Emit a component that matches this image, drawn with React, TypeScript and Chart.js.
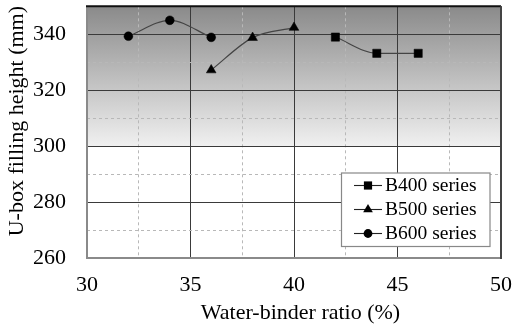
import React, { useEffect, useRef } from 'react';
import { Chart, registerables } from 'chart.js';

Chart.register(...registerables);

// ---- data ----
const xTitle = 'Water-binder ratio (%)';
const yTitle = 'U-box filling height (mm)';
const seriesNames = ['B400 series', 'B500 series', 'B600 series'];
const b400X = [42, 44, 46];
const b400Y = [339, 333.2, 333.2];
const b500X = [36, 38, 40];
const b500Y = [327.2, 338.8, 342.4];
const b600X = [32, 34, 36];
const b600Y = [339.3, 345, 338.9];
const xMin = 30;
const xMax = 50;
const xGridStep = 2.5;
const xLabelStep = 5;
const yMin = 260;
const yMax = 350;
const yGridStep = 10;
const yLabelStep = 20;
const shadeFrom = 350;
const shadeTo = 300;

const FONT = '"Liberation Serif", "Times New Roman", serif';
const pointStyles = ['rect', 'triangle', 'circle'];
const pointRadii = [5.8, 5.6, 4.4];

const toPoints = (xs: number[], ys: number[]) => xs.map((x, i) => ({ x, y: ys[i] }));

const backgroundPlugin = {
  id: 'bgShade',
  beforeDraw(chart: any) {
    const { ctx, chartArea } = chart;
    if (!chartArea) return;
    const { left, top, right, bottom } = chartArea;
    const yS = chart.scales.y;
    const y0 = yS.getPixelForValue(shadeFrom);
    const y1 = yS.getPixelForValue(shadeTo);
    ctx.save();
    ctx.fillStyle = '#ffffff';
    ctx.fillRect(left, top, right - left, bottom - top);
    const g = ctx.createLinearGradient(0, y0, 0, y1);
    g.addColorStop(0, '#8a8a8a');
    g.addColorStop(1, '#f0f0f0');
    ctx.fillStyle = g;
    ctx.fillRect(left, y0, right - left, y1 - y0);
    ctx.restore();
  },
};

const framePlugin = {
  id: 'frame',
  beforeDatasetsDraw(chart: any) {
    const { ctx, chartArea } = chart;
    const { left, top, right, bottom } = chartArea;
    ctx.save();
    ctx.lineWidth = 2;
    ctx.strokeStyle = '#8a8a8a';
    ctx.beginPath();
    ctx.moveTo(left, top);
    ctx.lineTo(left, bottom);
    ctx.lineTo(right, bottom);
    ctx.stroke();
    ctx.strokeStyle = '#111111';
    ctx.beginPath();
    ctx.moveTo(left - 1, top);
    ctx.lineTo(right, top);
    ctx.stroke();
    ctx.strokeStyle = '#444444';
    ctx.beginPath();
    ctx.moveTo(right, top);
    ctx.lineTo(right, bottom + 1);
    ctx.stroke();
    ctx.restore();
  },
};

const titlesPlugin = {
  id: 'axisTitles',
  afterDraw(chart: any) {
    const { ctx, chartArea } = chart;
    const { left, top, right, bottom } = chartArea;
    ctx.save();
    ctx.fillStyle = '#000000';
    ctx.font = `22px ${FONT}`;
    ctx.textAlign = 'center';
    ctx.textBaseline = 'middle';
    ctx.fillText(xTitle, (left + right) / 2 + 6.5, bottom + 55);
    ctx.translate(17.5, (top + bottom) / 2 - 11);
    ctx.rotate(-Math.PI / 2);
    ctx.fillText(yTitle, 0, 0);
    ctx.restore();
  },
};

const legendPlugin = {
  id: 'boxLegend',
  afterDraw(chart: any) {
    const { ctx, chartArea } = chart;
    const w = 148.5;
    const h = 73.5;
    const x0 = chartArea.right - 11 - w;
    const y0 = chartArea.bottom - 11.5 - h;
    ctx.save();
    ctx.fillStyle = '#ffffff';
    ctx.fillRect(x0, y0, w, h);
    ctx.strokeStyle = '#888888';
    ctx.lineWidth = 1.2;
    ctx.strokeRect(x0, y0, w, h);
    ctx.font = `19.5px ${FONT}`;
    ctx.textBaseline = 'middle';
    ctx.textAlign = 'left';
    chart.data.datasets.forEach((ds: any, i: number) => {
      const cy = y0 + 12.5 + i * 24;
      ctx.strokeStyle = '#222222';
      ctx.lineWidth = 1.1;
      ctx.beginPath();
      ctx.moveTo(x0 + 12.5, cy);
      ctx.lineTo(x0 + 40.5, cy);
      ctx.stroke();
      ctx.fillStyle = '#000000';
      const mx = x0 + 26.5;
      const r = ds.pointRadius;
      ctx.beginPath();
      if (ds.pointStyle === 'rect') {
        const s = Math.SQRT1_2 * r;
        ctx.rect(mx - s, cy - s, 2 * s, 2 * s);
      } else if (ds.pointStyle === 'triangle') {
        ctx.moveTo(mx, cy - r);
        ctx.lineTo(mx + Math.sin((2 * Math.PI) / 3) * r, cy + r / 2);
        ctx.lineTo(mx - Math.sin((2 * Math.PI) / 3) * r, cy + r / 2);
        ctx.closePath();
      } else {
        ctx.arc(mx, cy, r, 0, Math.PI * 2);
      }
      ctx.fill();
      ctx.fillText(ds.label, x0 + 43.5, cy + 0.5);
    });
    ctx.restore();
  },
};

export default function App() {
  const canvasRef = useRef<HTMLCanvasElement | null>(null);

  useEffect(() => {
    const canvas = canvasRef.current;
    if (!canvas) return;
    const seriesData = [toPoints(b400X, b400Y), toPoints(b500X, b500Y), toPoints(b600X, b600Y)];
    const chart = new Chart(canvas, {
      type: 'line',
      data: {
        datasets: seriesData.map((d, i) => ({
          label: seriesNames[i],
          data: d,
          borderColor: '#444444',
          borderWidth: 1.2,
          backgroundColor: '#000000',
          pointBackgroundColor: '#000000',
          pointBorderColor: '#000000',
          pointBorderWidth: 0.5,
          pointStyle: pointStyles[i],
          pointRadius: pointRadii[i],
          cubicInterpolationMode: 'monotone',
          tension: 0.4,
          fill: false,
        })),
      },
      options: {
        animation: false,
        responsive: false,
        events: [],
        layout: { padding: { left: 0, right: 13, top: 6, bottom: 0 } },
        plugins: {
          legend: { display: false },
          tooltip: { enabled: false },
          title: { display: false },
        },
        scales: {
          x: {
            type: 'linear',
            min: xMin,
            max: xMax,
            afterFit: (s: any) => {
              s.height = 71;
              s.paddingLeft = 0;
              s.paddingRight = 0;
            },
            ticks: {
              stepSize: xGridStep,
              autoSkip: false,
              maxRotation: 0,
              minRotation: 0,
              padding: 14,
              color: '#000000',
              font: { family: FONT, size: 22 },
              callback: (v: any) => (Math.abs(((Number(v) - xMin) % xLabelStep)) < 1e-6 ? String(v) : ''),
            },
            grid: {
              drawTicks: false,
              lineWidth: 1,
              color: (c: any) =>
                c.tick && Math.abs((c.tick.value - xMin) % xLabelStep) < 1e-6 ? '#3a3a3a' : '#b8b8b8',
            },
            border: {
              display: false,
              dash: (c: any) =>
                c.tick && Math.abs((c.tick.value - xMin) % xLabelStep) > 1e-6 ? [3, 3] : [],
            },
          },
          y: {
            type: 'linear',
            min: yMin,
            max: yMax,
            afterFit: (s: any) => {
              s.width = 87;
              s.paddingTop = 0;
              s.paddingBottom = 0;
            },
            ticks: {
              stepSize: yGridStep,
              autoSkip: false,
              padding: 21,
              color: '#000000',
              font: { family: FONT, size: 22 },
              callback: (v: any) => (Math.abs((Number(v) - yMin) % yLabelStep) < 1e-6 ? String(v) : ''),
            },
            grid: {
              drawTicks: false,
              lineWidth: 1,
              color: (c: any) =>
                c.tick && Math.abs((c.tick.value - yMin) % yLabelStep) < 1e-6 ? '#3a3a3a' : '#b8b8b8',
            },
            border: {
              display: false,
              dash: (c: any) =>
                c.tick && Math.abs((c.tick.value - yMin) % yLabelStep) > 1e-6 ? [3, 3] : [],
            },
          },
        },
      } as any,
      plugins: [backgroundPlugin, framePlugin, titlesPlugin, legendPlugin],
    });
    return () => chart.destroy();
  }, []);

  return (
    <div style={{ position: 'absolute', left: 0, top: 0, width: 514, height: 329, background: '#ffffff' }}>
      <canvas ref={canvasRef} width={514} height={329} style={{ display: 'block', width: 514, height: 329 }} />
    </div>
  );
}
